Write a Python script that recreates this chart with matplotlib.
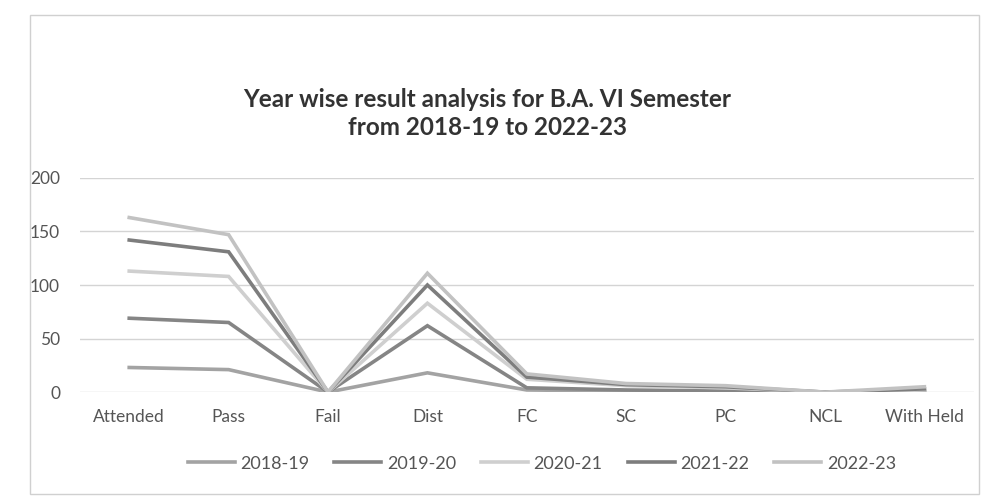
import matplotlib.pyplot as plt
from matplotlib.patches import Rectangle

categories = ['Attended', 'Pass', 'Fail', 'Dist', 'FC', 'SC', 'PC', 'NCL', 'With Held']
years = ['2018-19', '2019-20', '2020-21', '2021-22', '2022-23']
y2018 = [23, 21, 0, 18, 2, 1, 0, 0, 0]
y2019 = [69, 65, 0, 62, 4, 2, 1, 0, 1]
y2020 = [113, 108, 0, 83, 12, 6, 4, 0, 2]
y2021 = [142, 131, 0, 100, 14, 7, 5, 0, 3]
y2022 = [163, 147, 0, 111, 17, 8, 6, 0, 5]
series = [y2018, y2019, y2020, y2021, y2022]
colors = ['#a3a3a3', '#858585', '#cfcfcf', '#7d7d7d', '#c2c2c2']

plt.rcParams['font.family'] = ['Lato', 'DejaVu Sans']

fig = plt.figure(figsize=(9.94, 5.04), dpi=100)
fig.patches.append(Rectangle((0.03, 0.02), 0.955, 0.95, transform=fig.transFigure,
                             fill=False, edgecolor='#d0d0d0', linewidth=1))

ax = fig.add_axes([0.08, 0.222, 0.9, 0.425])
x = range(len(categories))
for vals, name, c in zip(series, years, colors):
    ax.plot(x, vals, color=c, linewidth=2.6, label=name, solid_joinstyle='miter')

ax.set_xlim(-0.5, len(categories) - 0.5)
ax.set_ylim(0, 200)
ax.set_yticks([0, 50, 100, 150, 200])
ax.set_xticks(list(x))
ax.set_xticklabels(categories)
ax.tick_params(axis='both', length=0, labelsize=12.5, colors='#555555')
ax.tick_params(axis='x', pad=12)
ax.tick_params(axis='y', pad=14)
ax.grid(axis='y', color='#d4d4d4', linewidth=1)
ax.set_axisbelow(True)
for s in ax.spines.values():
    s.set_visible(False)

fig.text(0.49, 0.775, 'Year wise result analysis for B.A. VI Semester\nfrom 2018-19 to 2022-23',
         ha='center', va='center', fontsize=17.5, fontweight='bold', color='#333333',
         linespacing=1.25)

fig.legend(loc='center', bbox_to_anchor=(0.545, 0.08), ncol=5, frameon=False,
           fontsize=13, handlelength=2.6, handletextpad=0.3, columnspacing=1.4,
           labelcolor='#555555')

fig.savefig('out.png', dpi=100)
